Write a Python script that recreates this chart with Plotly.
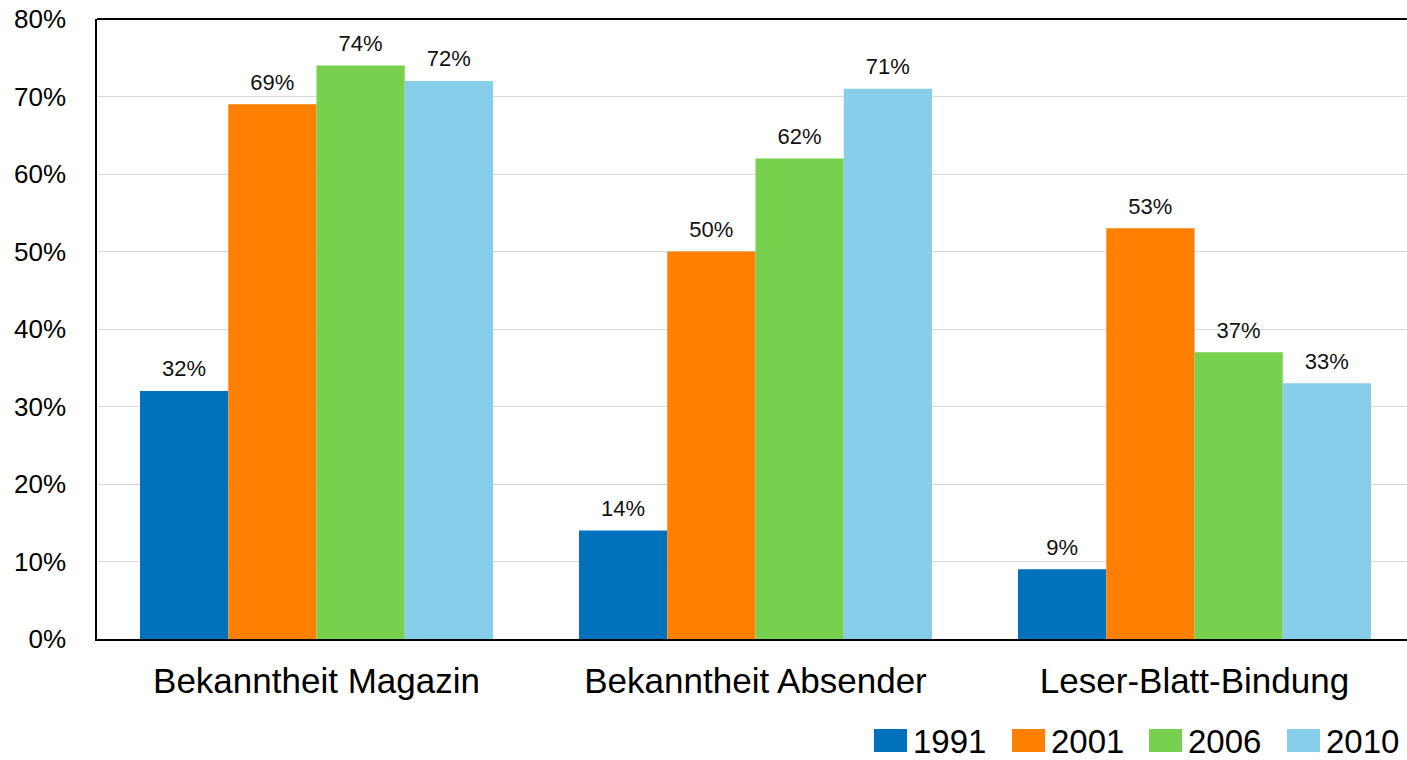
import plotly.graph_objects as go

categories = ["Bekanntheit Magazin", "Bekanntheit Absender", "Leser-Blatt-Bindung"]
years = ["1991", "2001", "2006", "2010"]
v1991 = [0.32, 0.14, 0.09]
v2001 = [0.69, 0.50, 0.53]
v2006 = [0.74, 0.62, 0.37]
v2010 = [0.72, 0.71, 0.33]
colors = ["#0071BC", "#FF7F00", "#78D04F", "#87CEEB"]
y_ticks = [0, 0.1, 0.2, 0.3, 0.4, 0.5, 0.6, 0.7, 0.8]

series = [v1991, v2001, v2006, v2010]

W, H = 1407, 760
ML, MT, MB = 97, 19, 121
PW, PH = W - ML, H - MT - MB
GAP = 0.196
FONT = "Liberation Sans, Arial, sans-serif"


def px_x(x):
    return (x - ML) / PW


def px_y(y):
    return (H - MB - y) / PH


fig = go.Figure()
for name, vals, col in zip(years, series, colors):
    fig.add_trace(go.Bar(
        x=categories, y=vals, name=name,
        marker=dict(color=col, line=dict(width=0)),
        showlegend=False, hoverinfo="x+y+name",
    ))
# value labels, grouped like the bars
for name, vals in zip(years, series):
    fig.add_trace(go.Scatter(
        x=categories, y=vals, mode="markers+text",
        marker=dict(size=13, opacity=0),
        text=[f"{round(v*100)}%" for v in vals],
        textposition="top center",
        textfont=dict(family=FONT, size=22, color="#111111"),
        showlegend=False, hoverinfo="skip", cliponaxis=False,
    ))

fig.update_layout(
    width=W, height=H,
    margin=dict(l=ML, r=0, t=MT, b=MB, autoexpand=False),
    barmode="group", bargap=GAP, bargroupgap=0,
    scattermode="group", scattergap=GAP,
    plot_bgcolor="white", paper_bgcolor="white",
    font=dict(family=FONT, color="#000000"),
    showlegend=False,
)
fig.update_xaxes(
    range=[-0.5, -0.5 + PW / 439.0],
    showline=True, linecolor="#000000", linewidth=1.5,
    tickfont=dict(size=35, color="#000000"), ticks="", showgrid=False,
    ticklabelstandoff=10, automargin=False,
)
fig.update_yaxes(
    range=[0, 0.8], tickvals=y_ticks, tickformat=".0%",
    showgrid=True, gridcolor="#D9D9D9", gridwidth=1,
    showline=True, linecolor="#000000", linewidth=1.5,
    zeroline=False, ticks="",
    tickfont=dict(size=26, color="#000000"),
    ticklabelstandoff=24, automargin=False,
)
fig.add_shape(type="line", xref="paper", yref="paper", x0=0, x1=1, y0=1, y1=1,
              line=dict(color="#000000", width=2))

# legend (bottom right)
leg_x0 = [874, 1012, 1149, 1287]
for name, col, lx in zip(years, colors, leg_x0):
    fig.add_shape(type="rect", xref="paper", yref="paper",
                  x0=px_x(lx), x1=px_x(lx + 33), y0=px_y(752), y1=px_y(729),
                  fillcolor=col, line=dict(width=0))
    fig.add_annotation(xref="paper", yref="paper", x=px_x(lx + 37), y=px_y(741),
                       text=name, showarrow=False, xanchor="left", yanchor="middle",
                       font=dict(family=FONT, size=33, color="#000000"))

fig.write_html("out.html", config={"displayModeBar": False},
               post_script="document.body.style.margin='0';document.body.style.overflow='hidden';")
